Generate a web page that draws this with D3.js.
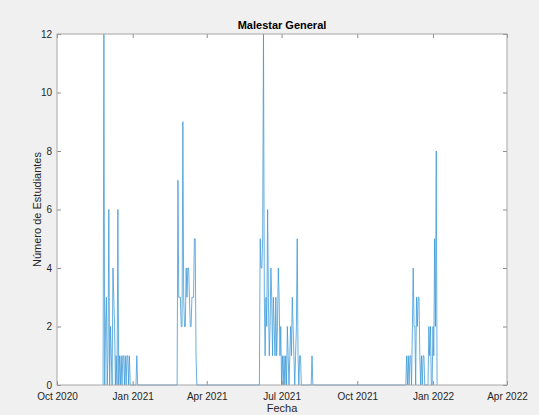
<!DOCTYPE html>
<html>
<head>
<meta charset="utf-8">
<script src="https://cdn.jsdelivr.net/npm/d3@7"></script>
<style>
  body { margin: 0; background: #f0f0f0; }
  svg { display: block; font-family: "Liberation Sans", Arial, sans-serif; }
</style>
</head>
<body>
<div id="chart"></div>
<script>
var width = 539;
var height = 415;
var margin = { top: 34, right: 32, bottom: 30, left: 57 };

// daily counts, one array per outbreak, each starting at the given date
var brote1Inicio = "2020-11-26";
var brote1 = [0, 12, 0, 2, 3, 0, 1, 6, 0, 2, 1, 0, 4, 3, 2, 0, 1, 0, 6, 0, 1, 0, 1, 0, 1, 1, 0, 1, 0, 1, 1, 0, 1, 0,
  0, 0, 0, 0, 0, 0, 0, 1, 0];
var brote2Inicio = "2021-02-24";
var brote2 = [0, 7, 3, 3, 3, 2, 2, 9, 3, 2, 2, 4, 3, 4, 4, 3, 2, 2, 3, 3, 3, 5, 5, 1, 0];
var brote3Inicio = "2021-06-04";
var brote3 = [0, 5, 4, 4, 5, 12, 3, 1, 3, 2, 6, 3, 1, 2, 4, 3, 1, 3, 2, 1, 3, 1, 2, 4, 3, 1, 2, 0, 1, 0, 1, 0, 1, 0,
  2, 1, 0, 1, 2, 1, 3, 2, 1, 0, 1, 2, 5, 1, 0, 1, 1,
  0, 0, 0, 0, 0, 0, 0, 0, 0, 0, 0, 0, 0, 1, 0];
var brote4Inicio = "2021-11-29";
var brote4 = [0, 1, 0, 1, 0, 1, 1, 0, 2, 4, 2, 2, 0, 3, 2, 3, 3, 1, 0, 1, 0, 1, 1, 0,
  0, 0, 0, 0, 2, 1, 2, 0, 0, 2, 1, 5, 2, 8, 0];

var xDomain = ["2020-10-01", "2022-04-01"];
var yTicks = [0, 2, 4, 6, 8, 10, 12];

var parse = d3.utcParse("%Y-%m-%d");

var data = [];
[[brote1Inicio, brote1], [brote2Inicio, brote2], [brote3Inicio, brote3], [brote4Inicio, brote4]].forEach(b => {
  var start = parse(b[0]);
  b[1].forEach((v, i) => data.push({ date: d3.utcDay.offset(start, i), value: v }));
});

var x = d3.scaleUtc()
  .domain(xDomain.map(parse))
  .range([margin.left, width - margin.right]);
var y = d3.scaleLinear()
  .domain([0, 12])
  .range([height - margin.bottom, margin.top]);

var svg = d3.select("#chart").append("svg")
  .attr("width", width)
  .attr("height", height);

svg.append("rect")
  .attr("x", margin.left)
  .attr("y", margin.top)
  .attr("width", width - margin.left - margin.right)
  .attr("height", height - margin.top - margin.bottom)
  .attr("fill", "white");

var line = d3.line()
  .x(d => x(d.date))
  .y(d => y(d.value));

svg.append("path")
  .datum(data)
  .attr("fill", "none")
  .attr("stroke", "#3f9ad8")
  .attr("stroke-width", 0.8)
  .attr("d", line);

var xTicks = d3.utcMonth.every(3).range(parse("2020-10-01"), d3.utcDay.offset(parse("2022-04-01"), 1));
var fmt = d3.utcFormat("%b %Y");

function styleAxis(g) {
  g.select(".domain").remove();
  g.selectAll("line").attr("stroke", "#8c8c8c");
  g.selectAll("text").attr("fill", "#262626").attr("font-size", 10);
}

svg.append("g")
  .attr("transform", "translate(0," + (height - margin.bottom) + ")")
  .call(d3.axisBottom(x).tickValues(xTicks).tickFormat(fmt).tickSizeInner(-4).tickSizeOuter(0).tickPadding(7.5))
  .call(styleAxis);
svg.append("g")
  .attr("transform", "translate(0," + margin.top + ")")
  .call(d3.axisTop(x).tickValues(xTicks).tickFormat("").tickSizeInner(-4).tickSizeOuter(0))
  .call(styleAxis);
svg.append("g")
  .attr("transform", "translate(" + margin.left + ",0)")
  .call(d3.axisLeft(y).tickValues(yTicks).tickSizeInner(-4).tickSizeOuter(0).tickPadding(5))
  .call(styleAxis);
svg.append("g")
  .attr("transform", "translate(" + (width - margin.right) + ",0)")
  .call(d3.axisRight(y).tickValues(yTicks).tickFormat("").tickSizeInner(-4).tickSizeOuter(0))
  .call(styleAxis);

svg.append("rect")
  .attr("x", margin.left)
  .attr("y", margin.top)
  .attr("width", width - margin.left - margin.right)
  .attr("height", height - margin.top - margin.bottom)
  .attr("fill", "none")
  .attr("stroke", "#a6a6a6")
  .attr("stroke-width", 1);

svg.append("text")
  .attr("x", (margin.left + width - margin.right) / 2)
  .attr("y", 29)
  .attr("text-anchor", "middle")
  .attr("font-size", 11)
  .attr("font-weight", "bold")
  .attr("fill", "black")
  .text("Malestar General");

svg.append("text")
  .attr("x", (margin.left + width - margin.right) / 2)
  .attr("y", 412)
  .attr("text-anchor", "middle")
  .attr("font-size", 11)
  .attr("fill", "#262626")
  .text("Fecha");

svg.append("text")
  .attr("transform", "translate(41," + (margin.top + height - margin.bottom) / 2 + ") rotate(-90)")
  .attr("text-anchor", "middle")
  .attr("font-size", 11)
  .attr("fill", "#262626")
  .text("Número de Estudiantes");
</script>
</body>
</html>
